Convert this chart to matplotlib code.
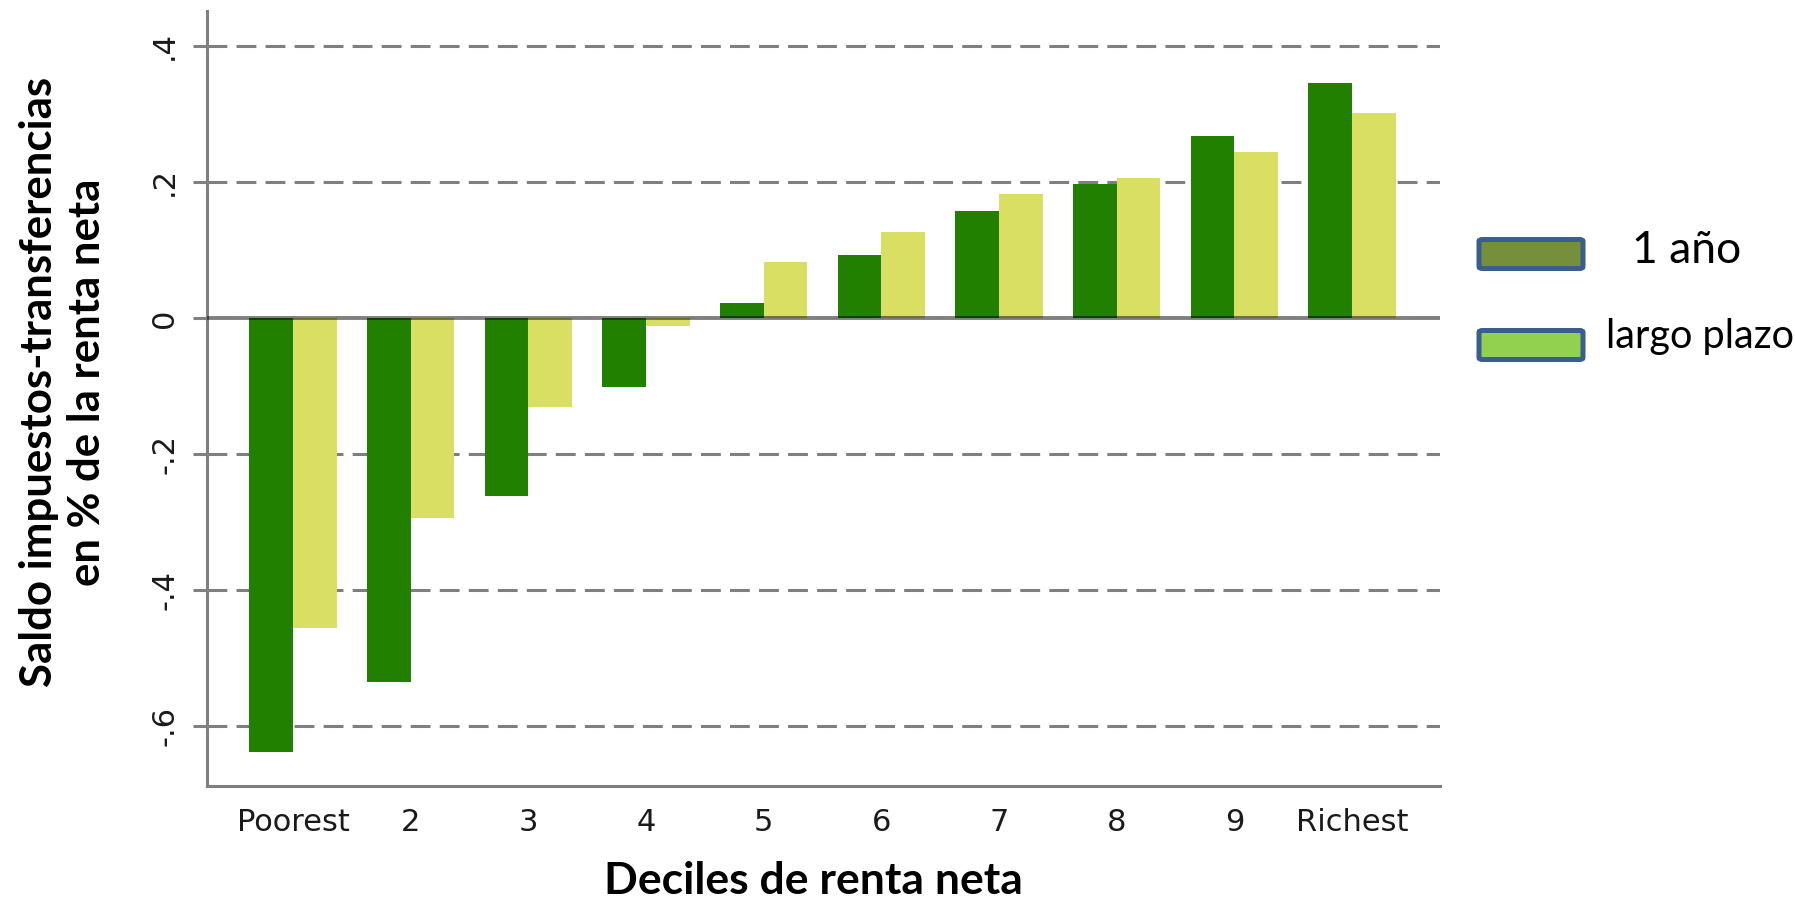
import matplotlib
matplotlib.use("Agg")
import matplotlib.pyplot as plt
from matplotlib.patches import FancyBboxPatch
import numpy as np

# datos
deciles = ['Poorest', '2', '3', '4', '5', '6', '7', '8', '9', 'Richest']
un_ano = [-0.638, -0.534, -0.262, -0.101, 0.022, 0.092, 0.158, 0.197, 0.268, 0.346]
largo_plazo = [-0.456, -0.293, -0.131, -0.012, 0.082, 0.127, 0.183, 0.206, 0.244, 0.302]
yticks = [-0.6, -0.4, -0.2, 0, 0.2, 0.4]
ytick_labels = ['-.6', '-.4', '-.2', '0', '.2', '.4']

W, H = 1795, 902
fig = plt.figure(figsize=(W / 100, H / 100), dpi=100)
fig.patch.set_facecolor('white')

# posicion de los ejes en pixeles del original
ax = fig.add_axes([207 / W, 1 - 786 / H, (1440 - 207) / W, (786 - 11) / H])

x = np.arange(len(deciles))
w = 0.37
ax.bar(x - w / 2, un_ano, width=w, color='#218000', zorder=2)
ax.bar(x + w / 2, largo_plazo, width=w, color='#D8DF62', zorder=2)

ax.set_xlim(-0.731, 9.748)
ax.set_ylim(-0.6875, 0.4512)

# lineas de la cuadricula
ax.set_yticks(yticks)
ax.set_yticklabels(ytick_labels, rotation=90, va='center', fontsize=22,
                   color='#1a1a1a', family='DejaVu Sans')
for yv in yticks:
    if yv != 0:
        ax.axhline(yv, color='black', alpha=0.5, lw=2.2,
                   linestyle=(0, (6.5, 3.0)), zorder=1)
ax.axhline(0, color='black', alpha=0.5, lw=2.8, zorder=3)

ax.set_xticks(x)
ax.set_xticklabels(deciles, fontsize=22, color='#1a1a1a', family='DejaVu Sans')
ax.tick_params(axis='x', length=0, pad=16)
ax.tick_params(axis='y', length=10, width=2.2, color='#808080', pad=10)

for side in ['top', 'right']:
    ax.spines[side].set_visible(False)
for side in ['left', 'bottom']:
    ax.spines[side].set_color('#808080')
    ax.spines[side].set_linewidth(2.2)

# titulos de los ejes
fig.text(63 / W, 1 - 382 / H,
         'Saldo impuestos-transferencias\nen % de la renta neta',
         rotation=90, ha='center', va='center', fontsize=31.5,
         fontweight='bold', family='Lato', linespacing=1.22)
fig.text(813 / W, 1 - 881 / H, 'Deciles de renta neta', ha='center',
         va='center', fontsize=32, fontweight='bold', family='Lato')

# leyenda hecha a mano
leyenda = [('1 año', '#768F3A', 239.5, 1632, 263, 32),
           ('largo plazo', '#92D050', 330.5, 1606, 348, 28.5)]
for texto, col, ytop, xt, ybase, fs in leyenda:
    p = FancyBboxPatch((1479 / W, 1 - (ytop + 29) / H), 104 / W, 29 / H,
                       boxstyle='round,pad=0,rounding_size=0.002',
                       transform=fig.transFigure, facecolor=col,
                       edgecolor='#3A5F8F', linewidth=3.6)
    fig.patches.append(p)
    fig.text(xt / W, 1 - ybase / H, texto, ha='left', va='baseline',
             fontsize=fs, family='Lato')

fig.savefig('out.png', dpi=100)
